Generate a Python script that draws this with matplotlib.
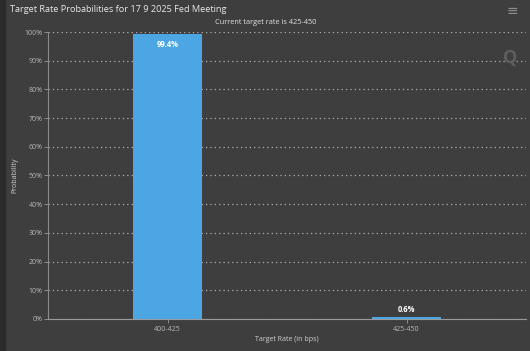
import matplotlib
matplotlib.use("Agg")
import matplotlib.pyplot as plt
from matplotlib.patches import Rectangle

plt.rcParams['font.family'] = ['Open Sans', 'DejaVu Sans']

categories = ["400-425", "425-450"]
probabilities = [99.4, 0.6]
y_ticks = [0, 10, 20, 30, 40, 50, 60, 70, 80, 90, 100]
y_tick_labels = [f"{v}%" for v in y_ticks]
bar_labels = ["99.4%", "0.6%"]

bg = "#3e3e3e"
fig = plt.figure(figsize=(5.30, 3.51), dpi=100, facecolor=bg)
fig.patches.append(Rectangle((0, 0), 4.5 / 530, 1, transform=fig.transFigure, color="#2b2b2b", zorder=0))
ax = fig.add_axes([0.0906, 0.0912, 0.902, 0.8176])
ax.set_facecolor(bg)

x = list(range(len(categories)))
bars = ax.bar(x, probabilities, width=0.29, color="#4ca6e3", zorder=3)
ax.set_xlim(-0.5, 1.5)
ax.set_ylim(0, 100)
ax.set_yticks(y_ticks)
ax.set_yticklabels(y_tick_labels, fontsize=5, color="#b8b8b8")
ax.set_xticks(x)
ax.set_xticklabels(categories, fontsize=5, color="#b8b8b8")
ax.tick_params(axis="y", length=3, width=0.6, color="#9a9a9a", pad=1)
ax.tick_params(axis="x", length=3, width=0.6, color="#9a9a9a", pad=2)
ax.yaxis.grid(True, linestyle=(0, (1, 2.5)), color="#b0b0b0", linewidth=0.9, zorder=0)
for s in ["top", "right"]:
    ax.spines[s].set_visible(False)
ax.spines["left"].set_color("#8a8a8a")
ax.spines["left"].set_linewidth(0.8)
ax.spines["bottom"].set_color("#9a9a9a")
ax.spines["bottom"].set_linewidth(0.8)

for i, (v, lab) in enumerate(zip(probabilities, bar_labels)):
    if v > 10:
        ax.text(i, v - 2.2, lab, ha="center", va="top", fontsize=5.5, fontweight="bold", color="white", zorder=4)
    else:
        ax.text(i, v + 1.2, lab, ha="center", va="bottom", fontsize=5.5, fontweight="bold", color="white", zorder=4)

ax.set_ylabel("Probability", fontsize=5, color="#cfcfcf")
ax.yaxis.set_label_coords((15 - 48) / 478, 0.5)
ax.set_xlabel("Target Rate (in bps)", fontsize=5, color="#cfcfcf")
ax.xaxis.set_label_coords(0.5, -(340 - 319) / 287)
ax.xaxis.label.set_va("center")
ax.yaxis.label.set_va("center")

fig.text(10 / 530, 1 - 10 / 351, "Target Rate Probabilities for 17 9 2025 Fed Meeting",
         fontsize=6.6, color="#e8e8e8", ha="left", va="center")
fig.text(266 / 530, 1 - 23 / 351, "Current target rate is 425-450",
         fontsize=5.3, color="#e0e0e0", ha="center", va="center")
fig.text(512 / 530, 1 - 11 / 351, "≡", fontsize=10, color="#8f8f8f", ha="center", va="center",
         family="DejaVu Sans")
fig.text(510 / 530, 1 - 58 / 351, "Q", fontsize=13, fontweight="bold", color="#5e5e5e", ha="center", va="center")

fig.savefig("out.png", dpi=100, facecolor=bg)
